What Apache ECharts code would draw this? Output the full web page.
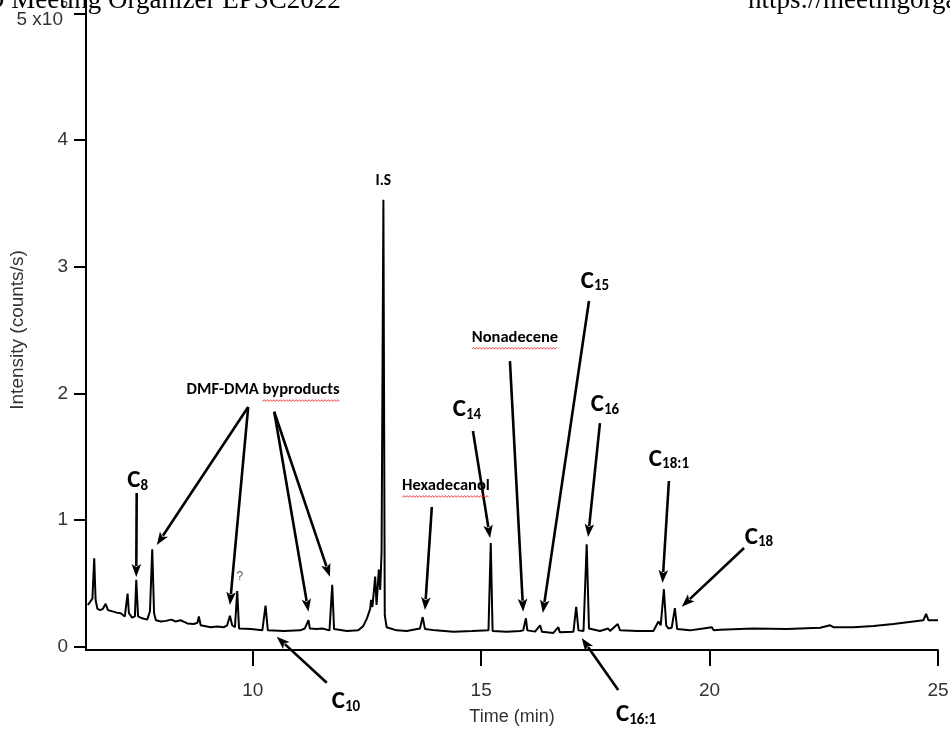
<!DOCTYPE html>
<html>
<head>
<meta charset="utf-8">
<script src="https://cdn.jsdelivr.net/npm/echarts@6/dist/echarts.min.js"></script>
<style>
html,body{margin:0;padding:0;background:#fff;}
#c{width:950px;height:740px;}
</style>
</head>
<body>
<div id="c"></div>
<script>
// ---- chromatogram trace (time in min, intensity in 10^5 counts/s) ----
const times = [6.39,6.45,6.49,6.53,6.56,6.60,6.66,6.72,6.78,6.83,6.93,7.02,7.11,7.20,7.26,7.29,7.36,7.42,7.45,7.49,
  7.58,7.69,7.75,7.80,7.84,7.88,7.99,8.10,8.22,8.31,8.42,8.57,8.71,8.79,8.82,8.86,9.08,9.22,9.37,9.44,
  9.50,9.55,9.61,9.66,9.70,9.96,10.21,10.28,10.33,10.69,11.04,11.14,11.22,11.25,11.40,11.52,11.68,11.74,11.78,12.06,
  12.31,12.42,12.50,12.57,12.59,12.62,12.68,12.71,12.76,12.79,12.82,12.86,12.89,12.93,13.15,13.37,13.66,13.72,13.77,14.00,
  14.39,14.80,15.16,15.21,15.25,15.56,15.85,15.92,15.98,16.01,16.18,16.29,16.33,16.58,16.69,16.72,17.02,17.08,17.13,17.24,
  17.31,17.36,17.60,17.78,17.82,17.99,18.04,18.41,18.77,18.88,18.93,19.00,19.05,19.10,19.17,19.24,19.29,19.57,19.86,19.90,
  20.05,20.09,20.23,20.96,21.69,22.42,22.64,22.71,23.15,23.59,24.02,24.46,24.68,24.74,24.79,25.00];
const intensities = [0.33,0.36,0.38,0.70,0.37,0.30,0.29,0.30,0.34,0.29,0.28,0.27,0.265,0.24,0.42,0.265,0.23,0.24,0.53,0.24,
  0.225,0.215,0.28,0.77,0.265,0.21,0.20,0.205,0.215,0.20,0.21,0.185,0.18,0.19,0.24,0.17,0.155,0.16,0.155,0.17,
  0.245,0.17,0.155,0.44,0.145,0.14,0.13,0.325,0.13,0.125,0.13,0.145,0.21,0.145,0.14,0.145,0.13,0.49,0.14,0.125,
  0.13,0.165,0.225,0.30,0.37,0.315,0.555,0.33,0.61,0.45,0.75,3.53,0.25,0.155,0.13,0.125,0.145,0.235,0.14,0.13,
  0.12,0.125,0.13,0.82,0.125,0.12,0.125,0.13,0.225,0.13,0.12,0.17,0.12,0.11,0.155,0.115,0.12,0.315,0.13,0.125,
  0.81,0.145,0.125,0.145,0.125,0.18,0.13,0.125,0.125,0.20,0.17,0.455,0.17,0.145,0.15,0.305,0.14,0.13,0.145,0.13,
  0.155,0.13,0.135,0.145,0.14,0.15,0.17,0.155,0.155,0.165,0.18,0.20,0.21,0.26,0.21,0.21];

// ---- axes ----
const xTicks = [10, 15, 20, 25];
const yTicks = [0, 1, 2, 3, 4, 5];
const xTitle = 'Time (min)';
const yTitle = 'Intensity (counts/s)';

// ---- peak labels (data coordinates) ----
const labelNames  = ['C','DMF-DMA byproducts','?','C','I.S','Hexadecanol','C','Nonadecene','C','C','C','C','C'];
const labelSubs   = ['8','','','10','','','14','','15','16','16:1','18:1','18'];
const labelTimes  = [7.48,10.225,9.72,12.04,12.86,14.23,14.69,15.74,17.49,17.71,18.39,19.11,21.08];
const labelValues = [1.309,2.027,0.551,-0.436,3.677,1.27,1.87,2.44,2.884,1.909,-0.539,1.479,0.863];

// ---- arrows (data coordinates, from -> to) ----
const arrowFromTime  = [7.46,9.90,9.90,10.47,10.47,11.62,13.92,14.82,15.63,17.36,17.60,18.00,19.11,20.755];
const arrowFromValue = [1.214,1.893,1.893,1.856,1.856,-0.283,1.104,1.704,2.256,2.73,1.767,-0.341,1.309,0.78];
const arrowToTime    = [7.45,7.90,9.50,11.22,11.69,10.525,13.77,15.195,15.92,16.35,17.34,17.20,18.97,19.39];
const arrowToValue   = [0.551,0.804,0.33,0.277,0.553,0.08,0.29,0.859,0.277,0.267,0.867,0.069,0.504,0.317];

const header1 = 'O Meeting Organizer EPSC2022';
const header2 = 'https://meetingorganizer.copernicus.org/EPSC2022';

const fontAxis = '"Liberation Sans Narrow", "Arial Narrow", "Liberation Sans", Arial, sans-serif';
const fontLabel = 'Carlito, Lato, sans-serif';
const axisTextColor = '#333';

const traceData = times.map((t, i) => [t, intensities[i]]);

const chart = echarts.init(document.getElementById('c'), null, {renderer: 'canvas'});
chart.setOption({
  animation: false,
  backgroundColor: '#fff',
  grid: {left: 86, right: 12, top: 0, bottom: 90, containLabel: false, outerBoundsMode: 'none'},
  xAxis: {
    type: 'value', min: 6.35, max: 25,
    axisLine: {show: true, onZero: false, lineStyle: {color: '#000', width: 2}},
    axisTick: {show: true, length: 16, customValues: xTicks, lineStyle: {color: '#000', width: 2}},
    axisLabel: {show: true, customValues: xTicks, margin: 31, fontSize: 19, fontFamily: fontAxis, color: axisTextColor},
    splitLine: {show: false},
    name: xTitle, nameLocation: 'middle', nameGap: 58,
    nameTextStyle: {fontSize: 18, fontFamily: fontAxis, color: axisTextColor}
  },
  yAxis: {
    type: 'value', min: -0.025, max: 5.107,
    axisLine: {show: true, onZero: false, lineStyle: {color: '#000', width: 2}},
    axisTick: {show: true, length: 12, customValues: yTicks, lineStyle: {color: '#000', width: 2}},
    axisLabel: {
      show: true, customValues: yTicks, margin: 18, fontSize: 19, fontFamily: fontAxis, color: axisTextColor,
      formatter: function (v) { return v === 5 ? '{sup|5}\n{n|5 x10}' : '{m|' + v + '}'; },
      rich: {
        m: {fontSize: 19, fontFamily: fontAxis, color: axisTextColor},
        n: {fontSize: 19, lineHeight: 20, fontFamily: fontAxis, color: axisTextColor, padding: [0, 5, 0, 0]},
        sup: {fontSize: 13, lineHeight: 13, fontFamily: fontAxis, color: axisTextColor}
      }
    },
    splitLine: {show: false}
  },
  series: [{
    type: 'line', data: traceData, showSymbol: false, symbol: 'none',
    lineStyle: {color: '#000', width: 2}, clip: true, silent: true
  }]
});

// ---- annotations drawn via the chart's own coordinate conversion ----
function px(t, v) { return chart.convertToPixel({gridIndex: 0}, [t, v]); }
const measureCtx = document.createElement('canvas').getContext('2d');
function textW(str, font) { measureCtx.font = font; return measureCtx.measureText(str).width; }

const g = [];
// y axis title (rotated)
const yMid = (px(6.35, -0.025)[1] + px(6.35, 5.107)[1]) / 2;
g.push({type: 'text', silent: true, z: 60, x: 18, y: yMid + 5, rotation: Math.PI / 2,
  style: {text: yTitle, font: '19px ' + fontAxis, fill: axisTextColor,
    align: 'center', verticalAlign: 'middle', textAlign: 'center', textVerticalAlign: 'middle'}});

// arrows
for (let i = 0; i < arrowFromTime.length; i++) {
  const a = px(arrowFromTime[i], arrowFromValue[i]);
  const b = px(arrowToTime[i], arrowToValue[i]);
  const dx = b[0] - a[0], dy = b[1] - a[1];
  const len = Math.sqrt(dx * dx + dy * dy);
  const ux = dx / len, uy = dy / len;
  const headL = 13, headW = 4.8;
  const bx = b[0] - ux * headL, by = b[1] - uy * headL;
  g.push({type: 'line', silent: true, z: 50,
    shape: {x1: a[0], y1: a[1], x2: bx + ux * 2, y2: by + uy * 2},
    style: {stroke: '#000', lineWidth: 2.6, lineCap: 'butt'}});
  g.push({type: 'polygon', silent: true, z: 50,
    shape: {points: [[b[0], b[1]], [bx - uy * headW, by + ux * headW], [bx + ux * 3, by + uy * 3], [bx + uy * headW, by - ux * headW]]},
    style: {fill: '#000'}});
}

// labels
const plainFont = 'bold 16.5px ' + fontLabel;
for (let i = 0; i < labelNames.length; i++) {
  const p = px(labelTimes[i], labelValues[i]);
  const name = labelNames[i], sub = labelSubs[i];
  if (sub) {
    g.push({type: 'text', silent: true, z: 60, x: p[0], y: p[1],
      style: {text: '{c|' + name + '}{s|' + sub + '}', align: 'center', verticalAlign: 'middle',
        textAlign: 'center', textVerticalAlign: 'middle',
        rich: {
          c: {fontSize: 25, fontWeight: 'bold', fontFamily: fontLabel, fill: '#000', color: '#000', lineHeight: 25, verticalAlign: 'top'},
          s: {fontSize: 15, fontWeight: 'bold', fontFamily: fontLabel, fill: '#000', color: '#000', lineHeight: 15, verticalAlign: 'bottom', padding: [14, 0, 0, 0]}
        }}});
  } else if (name === '?') {
    g.push({type: 'text', silent: true, z: 60, x: p[0], y: p[1],
      style: {text: name, font: '12px "Liberation Sans", Arial, sans-serif', fill: '#555',
        align: 'center', verticalAlign: 'middle', textAlign: 'center', textVerticalAlign: 'middle'}});
  } else {
    const fsz = name === 'I.S' ? 'bold 15.5px ' + fontLabel : plainFont;
    g.push({type: 'text', silent: true, z: 60, x: p[0], y: p[1],
      style: {text: name, font: fsz, fill: '#000',
        align: 'center', verticalAlign: 'middle', textAlign: 'center', textVerticalAlign: 'middle'}});
    // red spell-check squiggle under the flagged words
    let word = null, offset = 0;
    if (name === 'DMF-DMA byproducts') { word = 'byproducts'; offset = textW('DMF-DMA ', plainFont); }
    if (name === 'Hexadecanol' || name === 'Nonadecene') { word = name; offset = 0; }
    if (word) {
      const total = textW(name, plainFont);
      const x0 = p[0] - total / 2 + offset;
      const w = textW(word, plainFont);
      const yy = p[1] + 10.5;
      const pts = [];
      let k = 0;
      for (let x = x0; x <= x0 + w; x += 1.6, k++) pts.push([x, yy + (k % 2 ? -0.9 : 0.9)]);
      g.push({type: 'polyline', silent: true, z: 61, shape: {points: pts},
        style: {stroke: '#e33', lineWidth: 0.9, fill: null}});
    }
  }
}

// page header fragments (cropped text above the chart)
g.push({type: 'text', silent: true, z: 100, x: -15, y: 1,
  style: {text: header1, font: '27px "Liberation Serif", "Times New Roman", serif', fill: '#000',
    align: 'left', verticalAlign: 'middle', textAlign: 'left', textVerticalAlign: 'middle'}});
g.push({type: 'text', silent: true, z: 100, x: 748, y: 1,
  style: {text: header2, font: '27px "Liberation Serif", "Times New Roman", serif', fill: '#000',
    align: 'left', verticalAlign: 'middle', textAlign: 'left', textVerticalAlign: 'middle'}});

chart.setOption({graphic: {elements: g}});
</script>
</body>
</html>
